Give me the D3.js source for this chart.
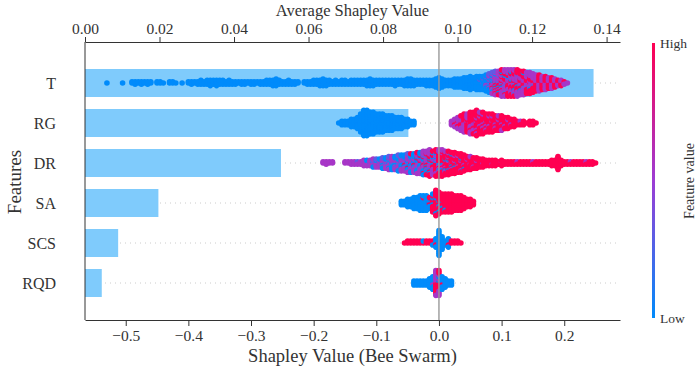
<!DOCTYPE html>
<html>
<head>
<meta charset="utf-8">
<script src="https://cdn.jsdelivr.net/npm/d3@7"></script>
<style>
  body { margin: 0; background: #fff; }
  text { font-family: "Liberation Serif", "Times New Roman", serif; fill: #333; }
</style>
</head>
<body>
<div class="canva"></div>
<script>
// features, mean |shap| (top axis) and ticks
const features = ["T", "RG", "DR", "SA", "SCS", "RQD"];
const meanShap = [0.1365, 0.0868, 0.0526, 0.0197, 0.0089, 0.0045];
const topTicks = [0, 0.02, 0.04, 0.06, 0.08, 0.10, 0.12, 0.14];
const bottomTicks = [-0.5, -0.4, -0.3, -0.2, -0.1, 0.0, 0.1, 0.2];

// bee swarm: bins of 0.005 starting at swarmStart,
// each letter is one point, b = low, c = low-mid, v = mid, p = high feature value
const binWidth = 0.005;
const swarmStart = [-0.530, -0.160, -0.185, -0.060, -0.055, -0.040];

const swarmT = ["b","","","","","b","","","bb","bbb","bb","bbb","bb","bbb","bb","","bb","bb","b","","bb","bb","b","","b","",
  "bb","bbb","bb","bbb","bbbb","bbb","bbbb","bbbbb","bbbb","bbbbb","bbbb","bbbb","bbb","bbbb","bbb","bbb","bb","bbb","bbb","bb",
  "bbb","bbb","bb","bbb","bbb","bbbb","bbbb","bbbbb","bbbbbb","bbbb","bbb","bbb","bbbb","bbb","bbb","bb","","bb","bbb","bbb",
  "bbbb","bbbb","bbbbb","bbbbbb","bbbbb","bbbb","bbb","bbbb","bbb","bbbb","bbbb","bbb","bbbb","bbbb","bbbb","bbbb","bbbb",
  "bbbbb","bbbbbb","bbbbb","bbbb","bbbb","bbbb","bbbb","bbbb","bbbb","bbbbb","bbbb","bbbb","bbbbb","bbbbbb","bbbbbb","bbbbb",
  "bbbb","bbbb","bbbb","bbbbb","bbbbb","bbbbb","bbbbbbb",
  "bbbbbbbbb","bbbbbbb","bbbbb","bbbbb","bbbbb","bbbbbbb","bbbbbbb","bbbbbbb","bbbbbbbbb","bbbbbbbbb","bbbbbbbbbbb",
  "bbbbbbbbb","bbbbbbbbbbb","bbbbbcbbbbb","bbcbbbbcbbb","bcbbvbcbbcbbb","cbvbcvbbvcbvbcb","vcpbvcvbpvcbvvbcv",
  "vpvcpvbvpvcvpbvvpcv","pvvcpvpvbvpcvvpvbvp","vpvpcvpvbpvvpcvpvbvpv","pvpvvpcpvpvbvpvpcvpvv","vpcvpvpvpbvpvpvcpvpvp",
  "pvvpvbpvpvpcvpvpvbpvp","vpvpcvpvpvpvbpvpvpcvp","pvpvpvbvpvpvpcvpvpvpv","vpvpvpcvpvpvbpvpvpv","pvpvpvpvcpvpvpvbvpv",
  "vpvpvpvpcvpvpvpvp","pvpvvpvpvpbvpvpvp","vpvpvpcvpvpvpvp","pvpvpvpvpvpvp","vpvpvpvpvpvpv","pvpvpvpvpvp","vpvpvpvpvpv",
  "pvpvpvpvp","vpvpvpvpv","pvpvpvp","vpvpv","pvpvp","vpv","v"];

const swarmRG = ["b","bbb","bbb","bbb","bbbbb","bbbbb","bbbbbbb","bbbbbbbbbbb","bbbbbbbbbbbbbbb","bbbbbbbbbbbbbbb",
  "bbbbbbbbbbbbb","bbbbbbbbbbbbb","bbbbbbbbbbb","bbbbbbbbbbb","bbbbbbbbbbb","bbbbbbbbb","bbbbbbbbb","bbbbbbbbb",
  "bbbbbbb","bbbbbbb","bbbbbbb","bbbbb","bbbbb","bbb","bbb",
  "","","","","","","","","","","",
  "vvv","vvpvv","vpvvpvv","pvpvpvvpv","vpvpvpvpvpv","pvpppvpvpvp","vpppvpvpppvpv","ppvpvpppvpvpp","pvpppvppvpppvpp",
  "vpppvppvpppvp","ppvpppvppvppp","pvppvpppvpp","ppppvppvppp","pvpppppvppp","ppvpppvpp","pppvpppvp","ppvpppppv",
  "ppppvpp","pppvppp","ppvpp","ppppp","ppp","pvp","ppp","p","ppp","ppp","p"];

const swarmDR = ["vv","vvv","vv","vv","","","","vv","vv","vvv","vvv","vcv","vvv","vcvvv","cvvbv","vvcvv","vbvcvvb","cvvbvcv",
  "vbcvvbv","bvcvbvvcb","vbvvcbvbv","bvbcvbvvbcv","vbbvcvbvbvb","cvbvbvvbcbv","bvbvcbvbvbvcb","vbcvbvbvbcvbv","bvbvpvbcvbvbv",
  "vbvbcvbvpvbvbcv","bvpvbvbcvbvbvpb","vbvbpvbvcbvbvbv","bvpbvbvpvbcvbvbpv","vbvpbvbvcbvpvbvbv","pvbvpbvbvpvcbvbvpvb",
  "vpbvpvbvpvbcvpbvbvp","pvpbvpvbvpvpbvpvbvpvp","vpvpbvpvpbvpvpvbvpv","pvpbpvpvpbpvpvpbvpvpp","ppvpbpvpppvpbpvppvpvp",
  "pvppbpvpppvpbppvpppvp","ppvppbppvpppbpvppvp","pppvpbpppvppbppvppp","ppvpppbpppvppbppp","pppvppppbppvppppp",
  "ppbpppvppppvppp","pppvpppbppppvpp","ppppvpppppbpp","pppppvppppp","ppvppppppvp","ppppppvpp","pppvppppp","ppppppp",
  "ppvpppp","ppppp","ppppp","ppvpp","ppppp","ppp","pvppp","ppp","ppp","ppp","ppp","pvp","ppp","ppp","ppp","ppp","pvp",
  "ppp","ppp","ppp","ppp","ppp","ppppp","ppppp","ppppppppppp","ppppp","ppp","ppp","pvp","ppp","ppp","ppp","ppp","pvp",
  "ppp","ppp","p"];

const swarmSA = ["bbb","bbb","bbbbb","bbbbb","bbbbbbb","bbbbbbb","bbbbbbbbb","bbbbbpbbb","bbbbbbbbb","pbpbbpb",
  "ppbppbpppbp","pppppbppppppbpp","pbppbpppppbpp","pbppppbpppp","ppppppppbpp","ppppppppppp","ppppppppppp",
  "ppppppppp","ppppppppp","ppppppppp","ppppppp","ppppp","ppppp","ppp"];

const swarmSCS = ["p","pp","pp","pp","pp","pp","pb","pp","pp","ppb","bbpbb","bbbbbbbbbbbbb","bbbbbbb","bbb","bbpbb",
  "pp","pp","pp","p"];

const swarmRQD = ["bbb","bbb","bbb","bbb","bbb","bbbbb","bbvbbbb","pvpvpvpvpvpvv","pbpvpbpvvpvpv","bbpbbbb","bbbbb","bbb","bbb"];

const swarms = [swarmT, swarmRG, swarmDR, swarmSA, swarmSCS, swarmRQD];
const codeValue = { b: 0.0, c: 0.3, v: 0.55, p: 1.0 };

const width = 699, height = 368;
const plotLeft = 85, plotRight = 620, plotTop = 42, plotBottom = 320;
const serif = "'Liberation Serif', 'Times New Roman', serif";

const svg = d3.select(".canva").append("svg")
  .attr("width", width)
  .attr("height", height);

const color = d3.scaleLinear()
  .domain([0, 0.5, 1])
  .range(["#008bfb", "#9d3cd4", "#ff0052"]);

const xTop = d3.scaleLinear().domain([0, 0.1436]).range([plotLeft, plotRight]);
const xBottom = d3.scaleLinear().domain([-0.565, 0.289]).range([plotLeft, plotRight]);
const y = d3.scalePoint().domain(features).range([83, 283]);
const rowStep = y.step();

// dotted row lines
svg.append("g").selectAll("line")
  .data(features)
  .enter().append("line")
  .attr("x1", plotLeft).attr("x2", plotRight)
  .attr("y1", d => y(d)).attr("y2", d => y(d))
  .attr("stroke", "#cccccc")
  .attr("stroke-width", 1)
  .attr("stroke-dasharray", "1,4");

// mean |shap| bars
svg.append("g").selectAll("rect")
  .data(features)
  .enter().append("rect")
  .attr("x", xTop(0))
  .attr("y", d => y(d) - rowStep * 0.35)
  .attr("width", (d, i) => xTop(meanShap[i]) - xTop(0))
  .attr("height", rowStep * 0.7)
  .attr("fill", "#7fcbfc");

// bee swarm points
const points = [];
features.forEach((f, fi) => {
  const bins = swarms[fi];
  const maxCount = d3.max(bins, s => s.length);
  const maxLayer = Math.ceil((maxCount - 1) / 2);
  const spacing = 0.9 * 0.4 * rowStep / (maxLayer + 1);
  bins.forEach((s, bi) => {
    const v = swarmStart[fi] + bi * binWidth;
    s.split("").forEach((c, j) => {
      const layer = Math.ceil(j / 2) * ((j % 2) * 2 - 1);
      points.push({ f: f, v: v, dy: -layer * spacing, c: codeValue[c] });
    });
  });
});

svg.append("g").selectAll("circle")
  .data(points)
  .enter().append("circle")
  .attr("cx", d => xBottom(d.v))
  .attr("cy", d => y(d.f) + d.dy)
  .attr("r", 2.8)
  .attr("fill", d => color(d.c));

// zero line
svg.append("line")
  .attr("x1", xBottom(0)).attr("x2", xBottom(0))
  .attr("y1", plotTop).attr("y2", plotBottom)
  .attr("stroke", "#999")
  .attr("stroke-width", 1.4);

// left spine
svg.append("line")
  .attr("x1", plotLeft).attr("x2", plotLeft)
  .attr("y1", plotTop).attr("y2", plotBottom)
  .attr("stroke", "#333")
  .attr("stroke-width", 1);

// axes
const topAxis = svg.append("g")
  .attr("transform", `translate(0, ${plotTop})`)
  .call(d3.axisTop(xTop).tickValues(topTicks).tickFormat(d3.format(".2f")).tickSize(5).tickPadding(3).tickSizeOuter(0));

const bottomAxis = svg.append("g")
  .attr("transform", `translate(0, ${plotBottom})`)
  .call(d3.axisBottom(xBottom).tickValues(bottomTicks).tickFormat(d3.format(".1f")).tickSize(6).tickPadding(4).tickSizeOuter(0));

[topAxis, bottomAxis].forEach(a => {
  a.attr("font-family", serif).attr("font-size", 15.5);
  a.select(".domain").attr("stroke", "#333");
  a.selectAll(".tick line").attr("stroke", "#333");
  a.selectAll(".tick text")
    .style("font-family", serif)
    .style("font-size", "15.5px")
    .attr("fill", "#333");
});

// feature labels
svg.append("g").selectAll("text")
  .data(features)
  .enter().append("text")
  .attr("x", 56)
  .attr("y", d => y(d))
  .attr("dy", "0.35em")
  .attr("text-anchor", "end")
  .style("font-size", "16px")
  .text(d => d);

// titles
svg.append("text")
  .attr("x", (plotLeft + plotRight) / 2).attr("y", 16)
  .attr("text-anchor", "middle")
  .style("font-size", "16.5px")
  .text("Average Shapley Value");

svg.append("text")
  .attr("x", (plotLeft + plotRight) / 2).attr("y", 362)
  .attr("text-anchor", "middle")
  .style("font-size", "18.5px")
  .text("Shapley Value (Bee Swarm)");

svg.append("text")
  .attr("transform", "translate(14, 182) rotate(-90)")
  .attr("dy", "0.35em")
  .attr("text-anchor", "middle")
  .style("font-size", "19px")
  .text("Features");

// colour bar
const defs = svg.append("defs");
const grad = defs.append("linearGradient")
  .attr("id", "fvGrad")
  .attr("x1", 0).attr("y1", 1).attr("x2", 0).attr("y2", 0);
d3.range(0, 1.01, 0.1).forEach(t => {
  grad.append("stop").attr("offset", t).attr("stop-color", color(t));
});

svg.append("rect")
  .attr("x", 652).attr("y", 43)
  .attr("width", 3).attr("height", 275)
  .attr("fill", "url(#fvGrad)");

svg.append("text")
  .attr("x", 660).attr("y", 43)
  .attr("dy", "0.35em")
  .style("font-size", "13.5px")
  .text("High");

svg.append("text")
  .attr("x", 660).attr("y", 318)
  .attr("dy", "0.35em")
  .style("font-size", "13.5px")
  .text("Low");

svg.append("text")
  .attr("transform", "translate(689, 181) rotate(-90)")
  .attr("dy", "0.35em")
  .attr("text-anchor", "middle")
  .style("font-size", "14px")
  .text("Feature value");
</script>
</body>
</html>
